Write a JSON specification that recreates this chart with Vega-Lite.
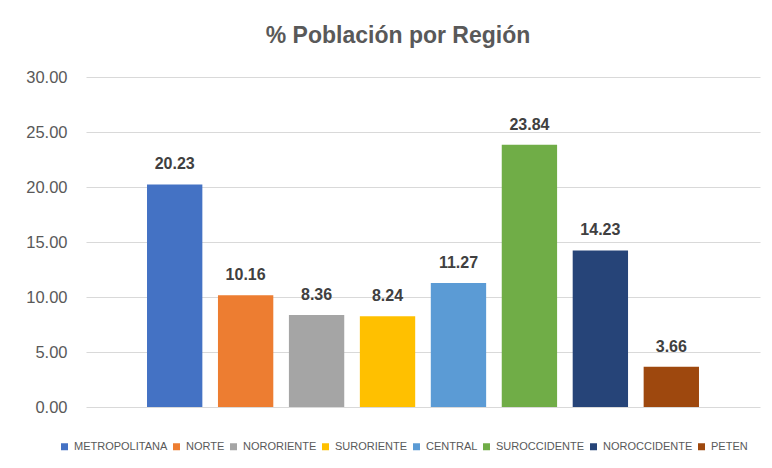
{
  "$schema": "https://vega.github.io/schema/vega-lite/v6.json",
  "width": 674,
  "height": 330,
  "autosize": {"type": "none"},
  "padding": {"left": 86, "top": 77, "right": 12, "bottom": 61},
  "background": "white",
  "title": {
    "text": "% Población por Región",
    "fontSize": 23,
    "font": "Liberation Sans",
    "fontWeight": "bold",
    "color": "#595959",
    "anchor": "middle",
    "dx": -25,
    "offset": 21
  },
  "config": {
    "view": {"stroke": null},
    "font": "Liberation Sans"
  },
  "data": {
    "values": [
      {"region": "METROPOLITANA", "pct": 20.23},
      {"region": "NORTE", "pct": 10.16},
      {"region": "NORORIENTE", "pct": 8.36},
      {"region": "SURORIENTE", "pct": 8.24},
      {"region": "CENTRAL", "pct": 11.27},
      {"region": "SUROCCIDENTE", "pct": 23.84},
      {"region": "NOROCCIDENTE", "pct": 14.23},
      {"region": "PETEN", "pct": 3.66}
    ]
  },
  "encoding": {
    "x": {
      "field": "region",
      "type": "nominal",
      "sort": null,
      "scale": {"paddingInner": 0.22, "paddingOuter": 0.86},
      "axis": null
    },
    "y": {
      "field": "pct",
      "type": "quantitative",
      "scale": {"domain": [0, 30]},
      "axis": {
        "title": null,
        "values": [0, 5, 10, 15, 20, 25, 30],
        "format": ".2f",
        "domain": false,
        "ticks": false,
        "labelFontSize": 16.5,
        "labelColor": "#595959",
        "labelPadding": 19,
        "gridColor": "#d9d9d9",
        "gridWidth": 1
      }
    }
  },
  "layer": [
    {
      "mark": {"type": "bar"},
      "encoding": {
        "color": {
          "field": "region",
          "type": "nominal",
          "sort": null,
          "scale": {
            "domain": ["METROPOLITANA", "NORTE", "NORORIENTE", "SURORIENTE", "CENTRAL", "SUROCCIDENTE", "NOROCCIDENTE", "PETEN"],
            "range": ["#4472C4", "#ED7D31", "#A5A5A5", "#FFC000", "#5B9BD5", "#70AD47", "#264478", "#9E480E"]
          },
          "legend": {
            "title": null,
            "orient": "none",
            "direction": "horizontal",
            "legendX": -27,
            "legendY": 364,
            "symbolType": "square",
            "symbolSize": 49,
            "symbolStrokeWidth": 0,
            "labelFontSize": 11,
            "labelColor": "#595959",
            "labelOffset": 4,
            "columnPadding": 3
          }
        }
      }
    },
    {
      "mark": {"type": "text", "baseline": "bottom", "dy": -12, "fontSize": 16, "fontWeight": "bold", "color": "#404040"},
      "encoding": {
        "text": {"field": "pct", "type": "quantitative", "format": ".2f"}
      }
    }
  ]
}
